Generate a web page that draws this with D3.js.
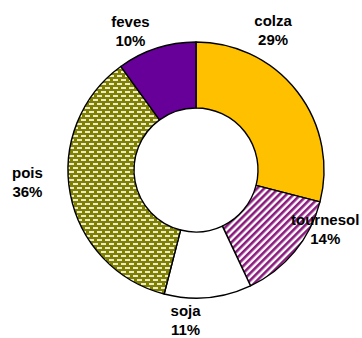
<!DOCTYPE html>
<html>
<head>
<meta charset="utf-8">
<script src="https://cdn.jsdelivr.net/npm/d3@7/dist/d3.min.js"></script>
<style>
  html, body { margin: 0; padding: 0; background: #fff; }
  svg { display: block; }
  text { font-family: "Liberation Sans", Arial, sans-serif; font-weight: bold; font-size: 15px; fill: #000; }
</style>
</head>
<body>
<svg id="chart" width="362" height="338"></svg>
<script>
// Répartition des surfaces d'oléoprotéagineux
const categories = ["colza", "tournesol", "soja", "pois", "feves"];
const shares = [29, 14, 11, 36, 10];

// Label placement around the ring: angle (degrees, clockwise from top) and distance from centre
const labelAngles = [28.8, 114.5, 184, 265.9, 334.8];
const labelRadii = [160, 142, 150, 169, 154];

const width = 362, height = 338;
const cx = 196, cy = 170;
const outerR = 128, innerR = 62;

const svg = d3.select("#chart");
const defs = svg.append("defs");

// diagonal purple/white stripes
const stripes = defs.append("pattern")
  .attr("id", "stripes").attr("patternUnits", "userSpaceOnUse")
  .attr("width", 5).attr("height", 5)
  .attr("patternTransform", "rotate(45)");
stripes.append("rect").attr("width", 5).attr("height", 5).attr("fill", "#ffffff");
stripes.append("rect").attr("width", 2.6).attr("height", 5).attr("fill", "#8b1a7e");

// olive with small light dashes in a brick layout
const bricks = defs.append("pattern")
  .attr("id", "bricks").attr("patternUnits", "userSpaceOnUse")
  .attr("width", 8).attr("height", 8);
bricks.append("rect").attr("width", 8).attr("height", 8).attr("fill", "#808000");
bricks.append("rect").attr("x", 1).attr("y", 1).attr("width", 5).attr("height", 2).attr("fill", "#ecebd0");
bricks.append("rect").attr("x", 5).attr("y", 5).attr("width", 5).attr("height", 2).attr("fill", "#ecebd0");
bricks.append("rect").attr("x", -3).attr("y", 5).attr("width", 5).attr("height", 2).attr("fill", "#ecebd0");

const fills = d3.scaleOrdinal()
  .domain(categories)
  .range(["#ffc000", "url(#stripes)", "#ffffff", "url(#bricks)", "#660099"]);

const data = categories.map((c, i) => ({ name: c, value: shares[i], i }));

const pie = d3.pie().value(d => d.value).sort(null);
const arc = d3.arc().innerRadius(innerR).outerRadius(outerR);

const g = svg.append("g").attr("transform", `translate(${cx},${cy})`);

g.selectAll("path.slice")
  .data(pie(data))
  .join("path")
  .attr("class", "slice")
  .attr("d", arc)
  .attr("fill", d => fills(d.data.name))
  .attr("stroke", "#000")
  .attr("stroke-width", 1.4)
  .attr("stroke-linejoin", "round");

const labels = g.selectAll("g.label")
  .data(pie(data))
  .join("g")
  .attr("class", "label")
  .attr("transform", d => {
    const a = labelAngles[d.data.i] * Math.PI / 180;
    const r = labelRadii[d.data.i];
    return `translate(${r * Math.sin(a)},${-r * Math.cos(a)})`;
  });

labels.append("text")
  .attr("text-anchor", "middle")
  .attr("y", -4)
  .text(d => d.data.name);

labels.append("text")
  .attr("text-anchor", "middle")
  .attr("y", 15)
  .text(d => d.data.value + "%");
</script>
</body>
</html>
